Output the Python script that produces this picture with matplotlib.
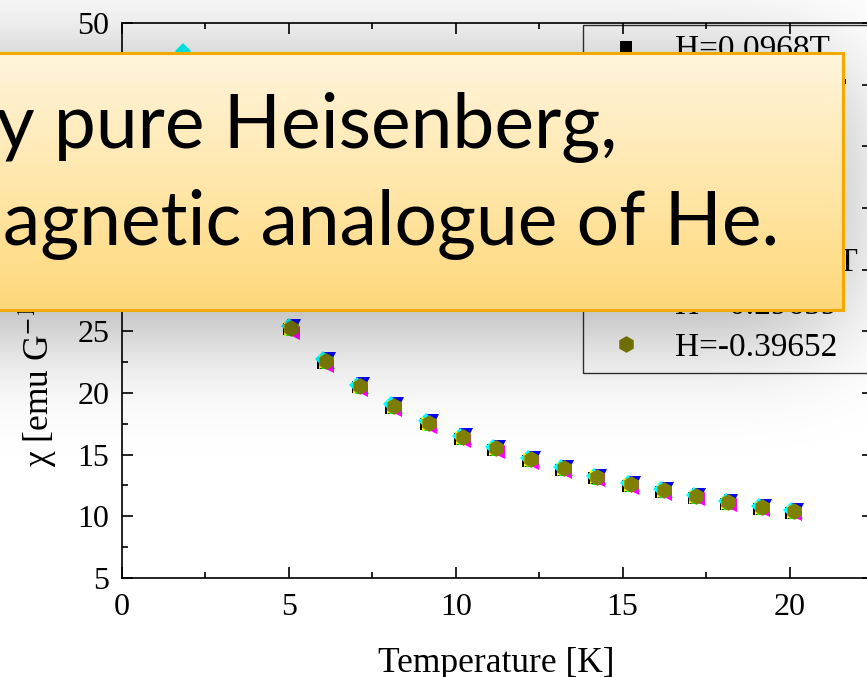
import math
import numpy as np
import matplotlib
matplotlib.use("Agg")
import matplotlib.pyplot as plt
from matplotlib.patches import Rectangle
from matplotlib.ticker import MultipleLocator

plt.rcParams['font.family'] = ['Liberation Serif', 'DejaVu Serif']
plt.rcParams['mathtext.fontset'] = 'stix'

# susceptibility vs temperature, one series per applied field
labels = ["H=0.0968T", "H=0.19864T", "H=0.2979T", "H=0.3973T",
          "H=-0.0994T", "H=-0.19823T", "H=-0.29659", "H=-0.39652"]

T_blk = [1.78, 2.98, 4.00, 4.99, 6.03, 7.06, 8.07, 9.12, 10.14, 11.13, 12.17, 13.16, 14.15, 15.17, 16.16, 17.13, 18.10, 19.09, 20.05]
chi_blk = [45.6, 35.0, 29.2, 25.15, 22.45, 20.45, 18.82, 17.45, 16.3, 15.35, 14.52, 13.78, 13.07, 12.48, 11.98, 11.5, 11.02, 10.62, 10.3]

T_red = [1.83, 3.05, 4.05, 5.06, 6.10, 7.12, 8.14, 9.19, 10.21, 11.20, 12.24, 13.23, 14.22, 15.24, 16.23, 17.20, 18.17, 19.16, 20.12]
chi_red = [46.0, 35.3, 29.4, 25.3, 22.6, 20.55, 18.95, 17.58, 16.42, 15.5, 14.64, 13.9, 13.18, 12.6, 12.1, 11.62, 11.14, 10.73, 10.41]

T_grn = [1.88, 3.10, 4.11, 5.12, 6.16, 7.18, 8.20, 9.25, 10.27, 11.26, 12.30, 13.29, 14.28, 15.30, 16.29, 17.26, 18.23, 19.22, 20.18]
chi_grn = [45.8, 35.1, 29.3, 25.2, 22.5, 20.48, 18.88, 17.5, 16.35, 15.42, 14.56, 13.83, 13.11, 12.53, 12.04, 11.55, 11.08, 10.67, 10.35]

T_blu = [1.92, 3.14, 4.14, 5.15, 6.19, 7.21, 8.23, 9.28, 10.30, 11.29, 12.33, 13.32, 14.31, 15.33, 16.32, 17.29, 18.26, 19.25, 20.21]
chi_blu = [46.1, 35.4, 29.55, 25.42, 22.72, 20.7, 19.08, 17.7, 16.56, 15.61, 14.76, 14.03, 13.3, 12.72, 12.23, 11.74, 11.26, 10.85, 10.53]

T_cyn = [1.83, 2.98, 3.98, 4.99, 6.03, 7.05, 8.07, 9.12, 10.14, 11.13, 12.17, 13.16, 14.15, 15.17, 16.16, 17.13, 18.10, 19.09, 20.05]
chi_cyn = [47.7, 35.5, 29.55, 25.42, 22.72, 20.68, 19.07, 17.7, 16.55, 15.6, 14.76, 14.03, 13.3, 12.7, 12.22, 11.74, 11.26, 10.84, 10.52]

T_mag = [1.88, 3.10, 4.10, 5.11, 6.15, 7.17, 8.19, 9.24, 10.26, 11.25, 12.29, 13.28, 14.27, 15.29, 16.28, 17.25, 18.22, 19.21, 20.17]
chi_mag = [44.8, 34.8, 29.0, 24.9, 22.2, 20.22, 18.62, 17.27, 16.12, 15.2, 14.35, 13.63, 12.92, 12.33, 11.85, 11.37, 10.9, 10.5, 10.17]

T_yel = [1.83, 3.05, 4.05, 5.06, 6.10, 7.12, 8.14, 9.19, 10.21, 11.20, 12.24, 13.23, 14.22, 15.24, 16.23, 17.20, 18.17, 19.16, 20.12]
chi_yel = [45.9, 35.2, 29.3, 25.2, 22.5, 20.5, 18.9, 17.52, 16.38, 15.45, 14.6, 13.87, 13.15, 12.56, 12.07, 11.6, 11.12, 10.7, 10.38]

T_olv = [1.83, 3.05, 4.05, 5.06, 6.10, 7.12, 8.14, 9.19, 10.21, 11.20, 12.24, 13.23, 14.22, 15.24, 16.23, 17.20, 18.17, 19.16, 20.12]
chi_olv = [45.1, 35.2, 29.4, 25.3, 22.6, 20.6, 18.95, 17.6, 16.44, 15.5, 14.65, 13.92, 13.19, 12.6, 12.12, 11.63, 11.15, 10.74, 10.42]

series = [(T_blk, chi_blk, 's', '#000000', 8.5),
          (T_red, chi_red, 'o', '#FF0000', 10),
          (T_grn, chi_grn, '^', '#00FF00', 9.5),
          (T_blu, chi_blu, 'v', '#0000FF', 9.5),
          (T_cyn, chi_cyn, 'D', '#00FFFF', 8.5),
          (T_mag, chi_mag, '<', '#FF00FF', 9.5),
          (T_yel, chi_yel, '>', '#FFFF00', 9.5),
          (T_olv, chi_olv, 'h', '#808000', 12)]

W, H = 867, 677
fig = plt.figure(figsize=(W / 100, H / 100), dpi=100)
fig.patch.set_facecolor('white')

ax = fig.add_axes([122 / W, 1 - 578 / H, (873 - 122) / W, 555 / H])
ax.set_facecolor('none')
for (t, c, m, col, ms), lab in zip(series, labels):
    ax.plot(t, c, linestyle='none', marker=m, color=col, markersize=ms,
            markeredgewidth=0, label=lab)

ax.set_xlim(0, 22.5)
ax.set_ylim(5, 50)
ax.xaxis.set_major_locator(MultipleLocator(5))
ax.xaxis.set_minor_locator(MultipleLocator(2.5))
ax.yaxis.set_major_locator(MultipleLocator(5))
ax.yaxis.set_minor_locator(MultipleLocator(2.5))
ax.tick_params(which='both', direction='in', top=True, right=True, width=1.2,
               labelsize=23)
ax.tick_params(which='major', length=8)
ax.tick_params(which='minor', length=4.5)
ax.tick_params(axis='x', pad=11)
ax.tick_params(axis='y', pad=9)
for sp in ax.spines.values():
    sp.set_linewidth(1.2)

leg = ax.legend(loc='upper left',
                bbox_to_anchor=((583 - 122) / 751, 0, 0.42, 1 - 2 / 555),
                mode='expand', fontsize=24, frameon=True, fancybox=False,
                borderaxespad=0, borderpad=0.3, handlelength=2.0,
                handletextpad=0.45, labelspacing=0.36, numpoints=1)
leg.get_frame().set_edgecolor('black')
leg.get_frame().set_linewidth(1.0)
leg.get_frame().set_facecolor('none')

fig.text(496 / W, 1 - 672 / H, "Temperature [K]", fontsize=25.5,
         ha='center', va='baseline')
fig.text(38 / W, 1 - 467 / H, "χ [emu G$^{-1}$ mol$^{-1}$]", fontsize=25.5,
         rotation=90, ha='center', va='bottom')

# callout box with soft drop shadow on top of the chart
ov = fig.add_axes([0, 0, 1, 1], zorder=10)
ov.set_xlim(0, W)
ov.set_ylim(H, 0)
ov.axis('off')
ov.patch.set_alpha(0)

erf = np.vectorize(math.erf)
def cdf(u):
    return 0.5 * (1 + erf(u / math.sqrt(2)))

s = 55.0
px = np.arange(W) + 0.5
py = np.arange(H) + 0.5
fx = cdf((px + 200) / s) - cdf((px - 835) / s)
fy = cdf((py - 68) / s) - cdf((py - 325) / s)
shade = np.zeros((H, W, 4))
shade[..., 3] = 0.37 * np.outer(fy, fx)
ov.imshow(shade, extent=(0, W, H, 0), aspect='auto', interpolation='bilinear')

top = np.array([255, 245, 220]) / 255
bot = np.array([255, 216, 122]) / 255
k = np.linspace(0, 1, 256)[:, None, None]
grad = top * (1 - k) + bot * k
ov.imshow(grad, extent=(-5, 843, 310, 53), aspect='auto', interpolation='bilinear')
ov.add_patch(Rectangle((-5, 53), 848, 257, fill=False, edgecolor='#F2A900',
                       linewidth=2.2))
ov.text(-4, 148, "y pure Heisenberg,", fontfamily='Lato', fontsize=54,
        va='baseline', ha='left', color='black')
ov.text(3, 245, "agnetic analogue of He.", fontfamily='Lato', fontsize=54,
        va='baseline', ha='left', color='black')
ov.set_xlim(0, W)
ov.set_ylim(H, 0)

fig.savefig('out.png', dpi=100)
